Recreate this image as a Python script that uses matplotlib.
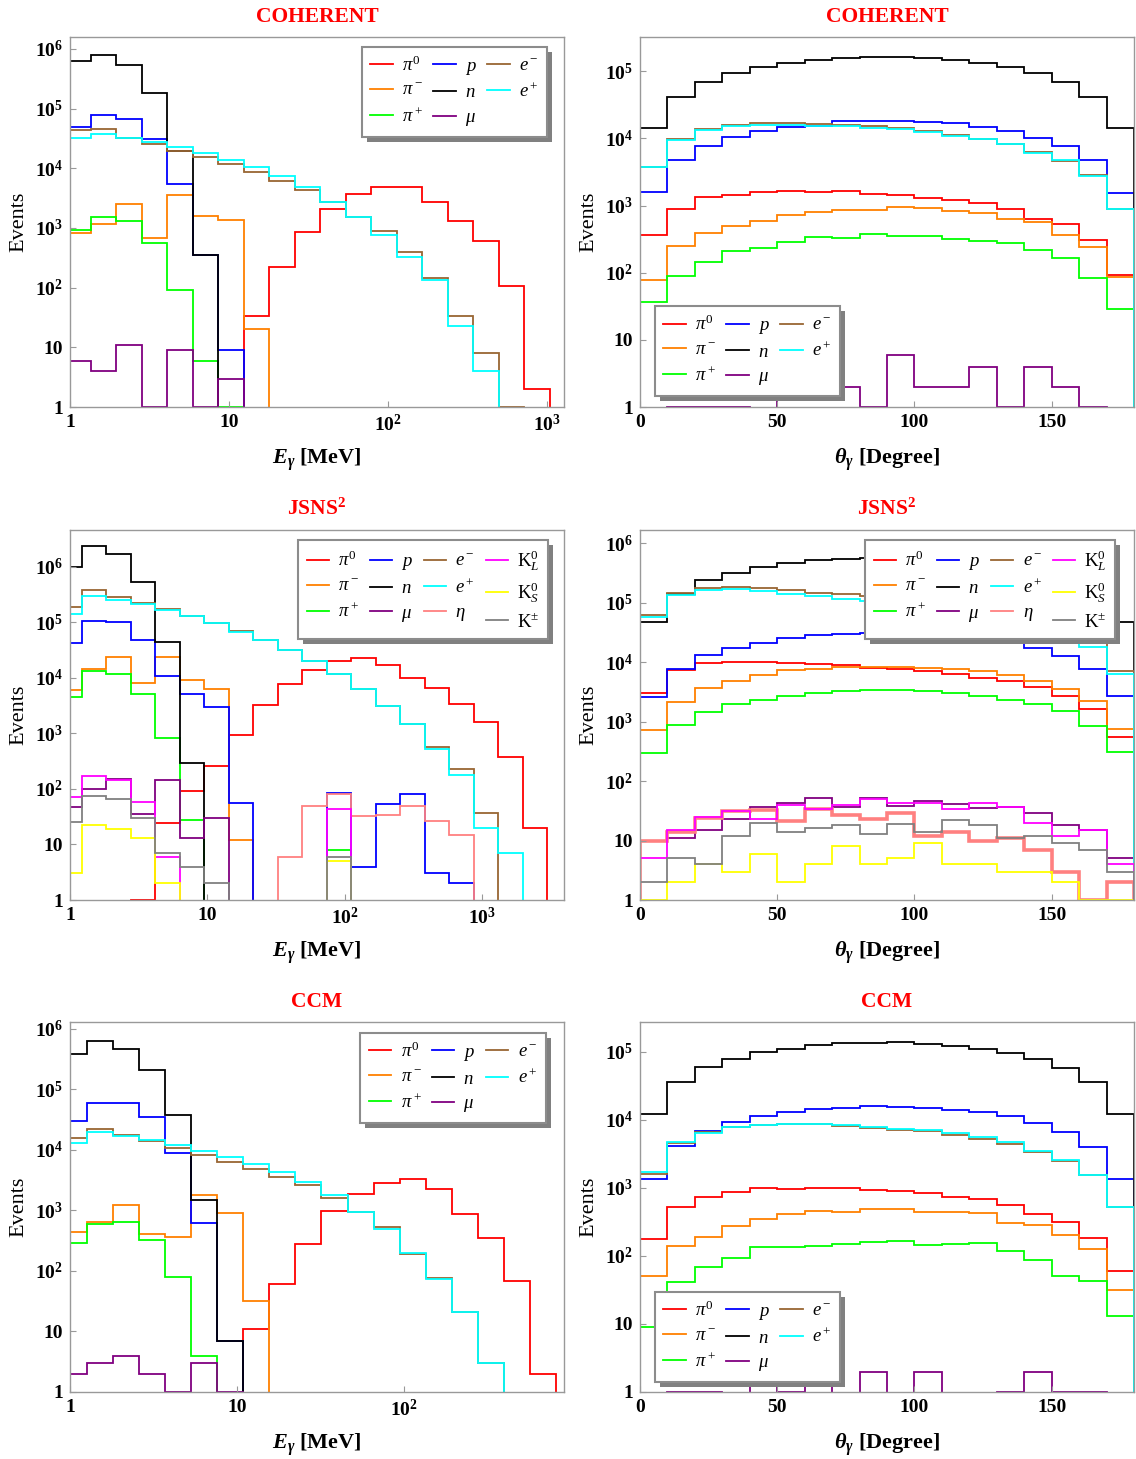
import numpy as np
import matplotlib
matplotlib.use('Agg')
import matplotlib.pyplot as plt
from matplotlib.lines import Line2D
from matplotlib.patches import Rectangle
from matplotlib.transforms import IdentityTransform
from matplotlib.ticker import FixedLocator, NullLocator

plt.rcParams['font.family'] = ['Liberation Serif', 'DejaVu Serif']
plt.rcParams['font.weight'] = 'bold'
plt.rcParams['mathtext.fontset'] = 'custom'
plt.rcParams['mathtext.rm'] = 'Liberation Serif:normal'
plt.rcParams['mathtext.it'] = 'Liberation Serif:italic:normal'
plt.rcParams['mathtext.bf'] = 'Liberation Serif:bold'
plt.rcParams['mathtext.bfit'] = 'Liberation Serif:bold:italic'

# ---------------- data ----------------
# bin edges (energy in MeV for E plots, degrees for theta plots)
coh_E_edges = np.logspace(-0.0305, 3.019, 20)
jsns_E_edges = np.logspace(-0.0933, 3.473, 21)
ccm_E_edges = np.logspace(-0.0566, 2.909, 20)
theta_edges = np.arange(0, 181, 10)

# COHERENT, E_gamma
coh_E_pi0 = [0, 0, 0, 0, 0, 0, 0, 34, 222, 840, 2100, 3700, 4900, 4850, 2700, 1300, 610, 108, 2]
coh_E_pim = [830, 1150, 2500, 690, 3600, 1600, 1350, 20, 0, 0, 0, 0, 0, 0, 0, 0, 0, 0, 0]
coh_E_pip = [920, 1500, 1300, 565, 91, 6, 1, 0, 0, 0, 0, 0, 0, 0, 0, 0, 0, 0, 0]
coh_E_p = [49000, 78000, 68000, 31000, 5400, 350, 9, 0, 0, 0, 0, 0, 0, 0, 0, 0, 0, 0, 0]
coh_E_n = [620000, 790000, 530000, 180000, 19500, 353, 0, 0, 0, 0, 0, 0, 0, 0, 0, 0, 0, 0, 0]
coh_E_mu = [6, 4, 11, 1, 9, 1, 3, 0, 0, 0, 0, 0, 0, 0, 0, 0, 0, 0, 0]
coh_E_em = [43600, 44700, 32400, 25100, 19500, 15500, 12000, 8700, 6200, 4300, 2700, 1500, 890, 400, 145, 34, 8, 1, 0]
coh_E_ep = [31600, 37000, 32400, 27500, 22400, 17800, 13800, 10500, 7400, 4900, 2750, 1500, 760, 330, 135, 23, 4, 0, 0]

# COHERENT, theta_gamma
coh_T_pi0 = [362, 883, 1345, 1456, 1577, 1633, 1577, 1633, 1507, 1456, 1285, 1227, 1095, 883, 641, 540, 305, 94]
coh_T_pim = [78, 246, 393, 493, 592, 735, 805, 862, 853, 956, 923, 824, 778, 641, 565, 367, 238, 85]
coh_T_pip = [36, 90, 144, 207, 232, 289, 335, 327, 375, 351, 354, 316, 295, 273, 217, 165, 84, 29]
coh_T_p = [1615, 4710, 7690, 10470, 12850, 14730, 15250, 17870, 18070, 18070, 17500, 16900, 14730, 12700, 10230, 7690, 4820, 1560]
coh_T_n = [14200, 42000, 68700, 93300, 114600, 133000, 147400, 157800, 163300, 163300, 156000, 147400, 133000, 114600, 93300, 68700, 42000, 14200]
coh_T_mu = [0, 1, 1, 1, 0, 2, 2, 2, 1, 6, 2, 2, 4, 1, 4, 2, 1, 0]
coh_T_em = [3750, 9890, 13900, 15960, 16900, 16900, 16500, 15960, 15070, 14230, 12700, 11200, 9890, 8150, 6190, 4550, 2820, 900]
coh_T_ep = [3750, 9550, 13450, 15070, 15780, 15600, 15420, 15070, 14400, 13600, 12420, 10960, 9660, 8150, 6120, 4710, 2730, 900]

# JSNS2, E_gamma
js_E_pi0 = [0, 0, 0, 1, 24, 91, 255, 950, 3300, 7800, 13700, 20000, 22300, 17300, 10000, 6600, 3400, 1600, 375, 20]
js_E_pim = [5970, 14100, 23900, 7900, 23200, 9100, 6400, 12, 0, 0, 0, 0, 0, 0, 0, 0, 0, 0, 0, 0]
js_E_pip = [4500, 13300, 11900, 5200, 825, 28, 0, 0, 0, 0, 0, 8, 0, 0, 0, 0, 0, 0, 0, 0]
js_E_p = [42700, 106000, 99000, 47700, 10700, 5060, 2990, 56, 0, 0, 0, 85, 4, 54, 82, 3, 2, 0, 0, 0]
js_E_n = [1000000, 2400000, 1670000, 520000, 44500, 296, 0, 0, 0, 0, 0, 0, 0, 0, 0, 0, 0, 0, 0, 0]
js_E_mu = [47, 100, 148, 35, 142, 13, 30, 0, 0, 0, 0, 0, 0, 0, 0, 0, 0, 0, 0, 0]
js_E_em = [190000, 380000, 288000, 225000, 173000, 131000, 98000, 69000, 47700, 31500, 20000, 11900, 6400, 3080, 1500, 568, 231, 37, 0, 0]
js_E_ep = [138000, 297000, 251000, 210000, 166000, 131000, 95000, 67000, 47700, 31500, 20000, 11900, 6400, 3080, 1460, 515, 175, 20, 7, 0]
js_E_eta = [0, 0, 0, 0, 0, 0, 0, 0, 0, 6, 49, 82, 32, 34, 49, 26, 15, 0, 0, 0]
js_E_KL = [71, 170, 142, 59, 6, 0, 0, 0, 0, 0, 0, 44, 0, 0, 0, 0, 0, 0, 0, 0]
js_E_KS = [3, 22, 19, 13, 2, 0, 0, 0, 0, 0, 0, 5, 0, 0, 0, 0, 0, 0, 0, 0]
js_E_Kpm = [25, 74, 65, 30, 7, 4, 2, 0, 0, 0, 0, 6, 0, 0, 0, 0, 0, 0, 0, 0]

# JSNS2, theta_gamma
js_T_pi0 = [3050, 7340, 9500, 10100, 10000, 9750, 9400, 8800, 8030, 7700, 7060, 6370, 5460, 4800, 3800, 2680, 1640, 549]
js_T_pim = [711, 2150, 3700, 4800, 5970, 7240, 7700, 8240, 8240, 8240, 8000, 7530, 7060, 6050, 4800, 3470, 2210, 758]
js_T_pip = [299, 873, 1460, 1940, 2300, 2680, 3050, 3260, 3340, 3340, 3300, 3050, 2680, 2300, 1940, 1500, 840, 307]
js_T_p = [2610, 7700, 12900, 17400, 21100, 25000, 28100, 29900, 31100, 31100, 29200, 27300, 24100, 21100, 17200, 12600, 7700, 2680]
js_T_n = [47000, 141000, 239000, 317000, 395000, 455000, 512000, 530000, 560000, 560000, 545000, 510000, 455000, 395000, 317000, 239000, 141000, 47600]
js_T_mu = [10, 11, 15, 23, 36, 42, 52, 36, 52, 38, 46, 41, 35, 36, 29, 18, 15, 5]
js_T_em = [60900, 143000, 177000, 185000, 173000, 162000, 146000, 137000, 127000, 117000, 106000, 94000, 80000, 65000, 48000, 30000, 20600, 7060]
js_T_ep = [57000, 132000, 160000, 171000, 156000, 141000, 129000, 117000, 108000, 99000, 89000, 79000, 68000, 56000, 43000, 29200, 18100, 6370]
js_T_eta = [10, 14, 24, 31, 32, 21, 34, 27, 23, 29, 12, 14, 10, 11, 7, 3, 1, 2]
js_T_KL = [5, 15, 25, 31, 23, 39, 34, 39, 49, 42, 43, 34, 42, 36, 20, 12, 15, 4]
js_T_KS = [1, 2, 4, 3, 6, 2, 4, 8, 4, 5, 9, 4, 4, 3, 3, 2, 1, 1]
js_T_Kpm = [2, 5, 4, 12, 20, 14, 16, 18, 13, 19, 14, 22, 18, 11, 12, 9, 7, 3]

# CCM, E_gamma
ccm_E_pi0 = [0, 0, 0, 0, 0, 0, 0, 11, 60, 280, 975, 1860, 2790, 3240, 2220, 860, 354, 67, 2]
ccm_E_pim = [434, 634, 1220, 407, 368, 1790, 893, 32, 0, 0, 0, 0, 0, 0, 0, 0, 0, 0, 0]
ccm_E_pip = [286, 595, 651, 324, 78, 4, 0, 0, 0, 0, 0, 0, 0, 0, 0, 0, 0, 0, 0]
ccm_E_p = [29700, 59500, 59500, 35000, 8930, 611, 7, 0, 0, 0, 0, 0, 0, 0, 0, 0, 0, 0, 0]
ccm_E_n = [378000, 626000, 468000, 211000, 37300, 1480, 7, 0, 0, 0, 0, 0, 0, 0, 0, 0, 0, 0, 0]
ccm_E_mu = [2, 3, 4, 2, 1, 3, 1, 0, 0, 0, 0, 0, 0, 0, 0, 0, 0, 0, 0]
ccm_E_em = [15400, 21900, 17500, 13900, 10800, 8170, 6340, 4800, 3500, 2620, 1620, 951, 525, 191, 76, 21, 3, 0, 0]
ccm_E_ep = [13000, 19800, 17000, 14400, 11900, 9600, 7700, 5800, 4230, 2970, 1790, 951, 486, 196, 73, 21, 3, 0, 0]

# CCM, theta_gamma
ccm_T_pi0 = [178, 525, 729, 863, 1000, 966, 1000, 1000, 925, 893, 844, 738, 689, 569, 420, 316, 184, 61]
ccm_T_pim = [51, 139, 188, 279, 350, 415, 454, 444, 497, 497, 439, 439, 424, 302, 289, 204, 127, 32]
ccm_T_pip = [9, 42, 69, 92, 134, 136, 140, 148, 159, 168, 147, 150, 153, 120, 86, 51, 43, 13]
ccm_T_p = [1372, 4100, 6810, 9240, 11300, 12970, 14360, 15010, 15880, 15530, 14860, 14190, 12970, 11300, 9040, 6660, 4010, 1372]
ccm_T_n = [12400, 35800, 59500, 79700, 98900, 112000, 125000, 134000, 137000, 139000, 133000, 124000, 112000, 95500, 79700, 58200, 36200, 12200]
ccm_T_mu = [0, 1, 1, 0, 2, 1, 2, 0, 2, 0, 2, 0, 0, 1, 2, 1, 1, 0]
ccm_T_em = [1607, 4590, 6590, 7800, 8530, 8730, 8730, 8250, 7630, 7210, 6810, 6080, 5310, 4430, 3380, 2520, 1570, 520]
ccm_T_ep = [1700, 4700, 6440, 7890, 8530, 8730, 8730, 8530, 7800, 7460, 7050, 6440, 5560, 4700, 3540, 2610, 1570, 520]

keys8 = ['pi0', 'pim', 'pip', 'p', 'n', 'mu', 'em', 'ep']
keys12 = keys8 + ['eta', 'KL', 'KS', 'Kpm']
colors = {'pi0': '#ff0000', 'pim': '#ff8000', 'pip': '#00ff00', 'p': '#0000ff',
          'n': '#000000', 'mu': '#800080', 'em': '#996633', 'ep': '#00ffff',
          'eta': '#ff8080', 'KL': '#ff00ff', 'KS': '#ffff00', 'Kpm': '#808080'}
labels = {'pi0': r'$\pi^0$', 'pim': r'$\pi^-$', 'pip': r'$\pi^+$', 'p': r'$p$',
          'n': r'$n$', 'mu': r'$\mu$', 'em': r'$e^-$', 'ep': r'$e^+$',
          'eta': r'$\eta$', 'KL': r'$\mathrm{K}_L^0$', 'KS': r'$\mathrm{K}_S^0$',
          'Kpm': r'$\mathrm{K}^{\pm}$'}

fig = plt.figure(figsize=(11.36, 14.59), dpi=100)
W, H = 1136, 1459
legends = []


def panel(px, py, edges, data, title, ytop, energy, xmax, xticks, xlabels, leg_loc, leg_anchor, eta_lw=1.3):
    ax = fig.add_axes([px / W, 1 - (py + 370) / H, 494 / W, 370 / H])
    floor = 1e-3
    for k in data:
        v = np.array(data[k], float)
        v = np.where(v > 0, v, floor)
        lw = eta_lw if k == 'eta' else 1.3
        ax.stairs(v, edges, baseline=floor, color=colors[k], lw=lw)
    ax.set_yscale('log')
    ax.set_ylim(1, 10 ** ytop)
    if energy:
        ax.set_xscale('log')
        ax.set_xlim(1, xmax)
        ax.set_xlabel(r'$\mathbfit{E}_{\mathbfit{\gamma}}\ \mathbf{[MeV]}$', fontsize=16)
    else:
        ax.set_xlim(0, 180)
        ax.set_xlabel(r'$\mathbfit{\theta}_{\mathbfit{\gamma}}\ \mathbf{[Degree]}$', fontsize=16)
    ax.xaxis.set_major_locator(FixedLocator(xticks))
    ax.xaxis.set_minor_locator(NullLocator())
    ax.set_xticklabels(xlabels)
    yt = [10 ** i for i in range(int(ytop) + 1)]
    ylab = ['1', '10'] + [r'$\mathbf{10^{%d}}$' % i for i in range(2, int(ytop) + 1)]
    ax.yaxis.set_major_locator(FixedLocator(yt))
    ax.yaxis.set_minor_locator(NullLocator())
    ax.set_yticklabels(ylab)
    ax.set_ylabel('Events', fontsize=16)
    ax.yaxis.set_label_coords(-0.085, 0.5)
    ax.xaxis.set_label_coords(0.5, -0.107)
    ax.tick_params(direction='in', length=4, color='0.6', labelsize=14, pad=5)
    for s in ax.spines.values():
        s.set_color('0.6')
        s.set_linewidth(1.0)
    ax.set_title(title, color='red', fontsize=15.5, fontweight='bold', pad=11)

    handles = [Line2D([], [], color=colors[k], lw=1.3) for k in data]
    ncol = 3 if len(data) == 8 else 4
    leg = ax.legend(handles, [labels[k] for k in data], ncol=ncol, loc=leg_loc,
                    bbox_to_anchor=leg_anchor, fancybox=False, framealpha=1,
                    edgecolor='0.55', fontsize=13.5, handlelength=1.2,
                    handletextpad=0.5, columnspacing=0.55, labelspacing=0.4,
                    borderpad=0.45, borderaxespad=0)
    leg.get_frame().set_linewidth(1.5)
    legends.append((ax, leg))
    return ax


E_ticks3 = [1, 10, 100, 1000]
E_lab3 = ['1', '10', r'$\mathbf{10^{2}}$', r'$\mathbf{10^{3}}$']
T_ticks = [0, 50, 100, 150]
T_lab = ['0', '50', '100', '150']

coh_E = dict(zip(keys8, [coh_E_pi0, coh_E_pim, coh_E_pip, coh_E_p, coh_E_n, coh_E_mu, coh_E_em, coh_E_ep]))
coh_T = dict(zip(keys8, [coh_T_pi0, coh_T_pim, coh_T_pip, coh_T_p, coh_T_n, coh_T_mu, coh_T_em, coh_T_ep]))
js_E = dict(zip(keys12, [js_E_pi0, js_E_pim, js_E_pip, js_E_p, js_E_n, js_E_mu, js_E_em, js_E_ep,
                         js_E_eta, js_E_KL, js_E_KS, js_E_Kpm]))
js_T = dict(zip(keys12, [js_T_pi0, js_T_pim, js_T_pip, js_T_p, js_T_n, js_T_mu, js_T_em, js_T_ep,
                         js_T_eta, js_T_KL, js_T_KS, js_T_Kpm]))
ccm_E = dict(zip(keys8, [ccm_E_pi0, ccm_E_pim, ccm_E_pip, ccm_E_p, ccm_E_n, ccm_E_mu, ccm_E_em, ccm_E_ep]))
ccm_T = dict(zip(keys8, [ccm_T_pi0, ccm_T_pim, ccm_T_pip, ccm_T_p, ccm_T_n, ccm_T_mu, ccm_T_em, ccm_T_ep]))

panel(70, 37, coh_E_edges, coh_E, 'COHERENT', 6.2, True, 10 ** 3.107, E_ticks3, E_lab3,
      'upper right', (0.966, 0.973))
panel(640, 37, theta_edges, coh_T, 'COHERENT', 5.51, False, 180, T_ticks, T_lab,
      'lower left', (0.03, 0.03))
panel(70, 530, jsns_E_edges, js_E, r'JSNS$^{\mathbf{2}}$', 6.66, True, 10 ** 3.595, E_ticks3, E_lab3,
      'upper right', (0.968, 0.973))
panel(640, 530, theta_edges, js_T, r'JSNS$^{\mathbf{2}}$', 6.22, False, 180, T_ticks, T_lab,
      'upper right', (0.962, 0.973), eta_lw=2.6)
panel(70, 1022, ccm_E_edges, ccm_E, 'CCM', 6.11, True, 10 ** 2.955, E_ticks3[:3], E_lab3[:3],
      'upper right', (0.963, 0.970))
panel(640, 1022, theta_edges, ccm_T, 'CCM', 5.44, False, 180, T_ticks, T_lab,
      'lower left', (0.03, 0.028))

# legend drop shadows
fig.canvas.draw()
for ax, leg in legends:
    bb = leg.get_window_extent()
    sh = Rectangle((bb.x0 + 5, bb.y0 - 5), bb.width, bb.height, transform=IdentityTransform(),
                   facecolor='0.5', edgecolor='none', zorder=4.5, clip_on=False)
    ax.add_artist(sh)

fig.savefig('out.png', dpi=100)
